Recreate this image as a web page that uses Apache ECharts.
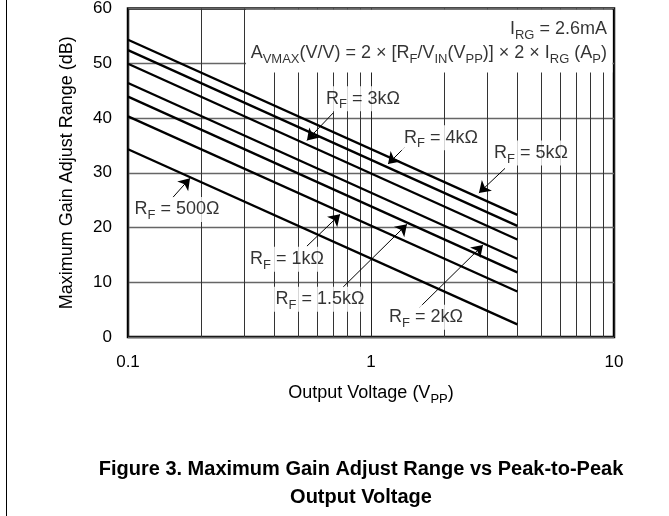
<!DOCTYPE html>
<html>
<head>
<meta charset="utf-8">
<script src="https://cdn.jsdelivr.net/npm/echarts@6/dist/echarts.min.js"></script>
<style>html,body{margin:0;padding:0;background:#fff;}#c{width:669px;height:516px;}</style>
</head>
<body>
<div id="c"></div>
<script>
// ---- data ----
const rfNames = ['500Ω', '1kΩ', '1.5kΩ', '2kΩ', '3kΩ', '4kΩ', '5kΩ'];
const voutPoints = [0.1, 4];
const gainAtStart = [34.3, 40.3, 43.9, 46.4, 49.9, 52.4, 54.3];
const gainAtEnd = [2.3, 8.3, 11.8, 14.3, 17.8, 20.3, 22.3];
const xGridValues = [0.2, 0.3, 0.4, 0.5, 0.6, 0.7, 0.8, 0.9, 2, 3, 4, 5, 6, 7, 8, 9];
const yTicks = [0, 10, 20, 30, 40, 50, 60];

// ---- annotation anchors (data units) ----
const labelAnchor = [[0.159, 23.3], [0.451, 14.2], [0.617, 6.9], [1.684, 3.6], [0.927, 43.5], [1.94, 36.4], [4.55, 33.6]];
const arrowFrom = [[0.153, 25.5], [0.545, 16.6], [0.767, 9.1], [1.576, 5.3], [0.698, 40.9], [1.380, 34.7], [3.56, 30.8]];
const arrowTo = [[0.180, 29.0], [0.746, 22.4], [1.406, 20.6], [2.89, 16.8], [0.545, 35.9], [1.175, 31.6], [2.78, 26.3]];
const formulaBox = [[0.306, 48.3], [9.85, 59.75]];

const FONT = '"Liberation Sans", Arial, Helvetica, sans-serif';
const rich = {
  m: { fontSize: 18, lineHeight: 25, fontFamily: FONT, color: '#000' },
  s: { fontSize: 13, lineHeight: 13, verticalAlign: 'bottom', fontFamily: FONT, color: '#000' }
};

const chart = echarts.init(document.getElementById('c'), null, { renderer: 'canvas' });

const curveSeries = rfNames.map((n, i) => ({
  name: 'RF = ' + n,
  type: 'line',
  z: 3,
  symbol: 'none',
  silent: true,
  lineStyle: { color: '#000', width: 2.3 },
  data: [[voutPoints[0], gainAtStart[i]], [voutPoints[1], gainAtEnd[i]]]
}));

const option = {
  animation: false,
  backgroundColor: '#fff',
  title: {
    text: 'Figure 3. Maximum Gain Adjust Range vs Peak-to-Peak\nOutput Voltage',
    left: 356,
    top: 450,
    textAlign: 'center',
    textStyle: { fontFamily: FONT, fontWeight: 'bold', fontSize: 20, lineHeight: 28, color: '#000' }
  },
  grid: {
    left: 128, right: 55, top: 8, bottom: 179,
    show: true, borderColor: '#000', borderWidth: 2.5, backgroundColor: 'transparent'
  },
  xAxis: {
    type: 'log', logBase: 10, min: 0.1, max: 10,
    name: '{m|Output Voltage (V}{s|PP}{m|)}',
    nameLocation: 'middle', nameGap: 44,
    nameTextStyle: { rich: rich },
    axisLine: { show: false },
    axisTick: { show: false },
    axisLabel: { margin: 17, fontSize: 17, fontFamily: FONT, color: '#000' },
    splitLine: { show: true, lineStyle: { color: '#222', width: 1 } }
  },
  yAxis: {
    type: 'value', min: yTicks[0], max: yTicks[yTicks.length - 1], interval: 10,
    name: 'Maximum Gain Adjust Range (dB)',
    nameLocation: 'middle', nameGap: 52,
    nameTextStyle: { fontSize: 18, fontFamily: FONT, color: '#000' },
    axisLine: { show: false },
    axisTick: { show: false },
    axisLabel: { margin: 16, fontSize: 17, fontFamily: FONT, color: '#000' },
    splitLine: { show: true, lineStyle: { color: '#666', width: 1.3 } }
  },
  graphic: [{
    type: 'line', silent: true,
    shape: { x1: 6.5, y1: 0, x2: 6.5, y2: 516 },
    style: { stroke: '#000', lineWidth: 1 }
  }],
  series: [
    {
      type: 'line', z: 1, silent: true, data: [],
      markLine: {
        z: 1,
        silent: true, symbol: 'none', label: { show: false },
        lineStyle: { color: '#333', width: 1, type: 'solid' },
        data: xGridValues.map(v => ({ xAxis: v }))
      },
      markArea: {
        z: 2,
        silent: true,
        itemStyle: { color: '#fff', borderWidth: 0, opacity: 1 },
        data: [[{ coord: formulaBox[0] }, { coord: formulaBox[1] }]]
      }
    },
    ...curveSeries,
    {
      type: 'line', z: 4, silent: true, data: [],
      markLine: {
        z: 4,
        silent: true, symbol: ['none', 'arrow'], symbolSize: 11,
        label: { show: false },
        lineStyle: { color: '#000', width: 1, type: 'solid' },
        itemStyle: { color: '#000' },
        data: arrowFrom.map((p, i) => [{ coord: p }, { coord: arrowTo[i] }])
      }
    },
    {
      type: 'scatter', z: 6, silent: true, symbolSize: 0,
      label: {
        show: true, position: 'inside', backgroundColor: '#fff', padding: [0, 3],
        rich: rich
      },
      data: rfNames.map((n, i) => ({
        value: labelAnchor[i],
        label: { formatter: '{m|R}{s|F}{m| = ' + n + '}' }
      }))
    },
    {
      type: 'scatter', z: 6, silent: true, symbolSize: 0,
      label: { show: true, position: 'left', distance: 0, rich: rich },
      data: [
        { value: [9.36, 56.2], label: { formatter: '{m|I}{s|RG}{m| = 2.6mA}' } },
        { value: [9.36, 51.8], label: { formatter: '{m|A}{s|VMAX}{m|(V/V) = 2 × [R}{s|F}{m|/V}{s|IN}{m|(V}{s|PP}{m|)] × 2 × I}{s|RG}{m| (A}{s|P}{m|)}' } }
      ]
    }
  ]
};
chart.setOption(option);
</script>
</body>
</html>
